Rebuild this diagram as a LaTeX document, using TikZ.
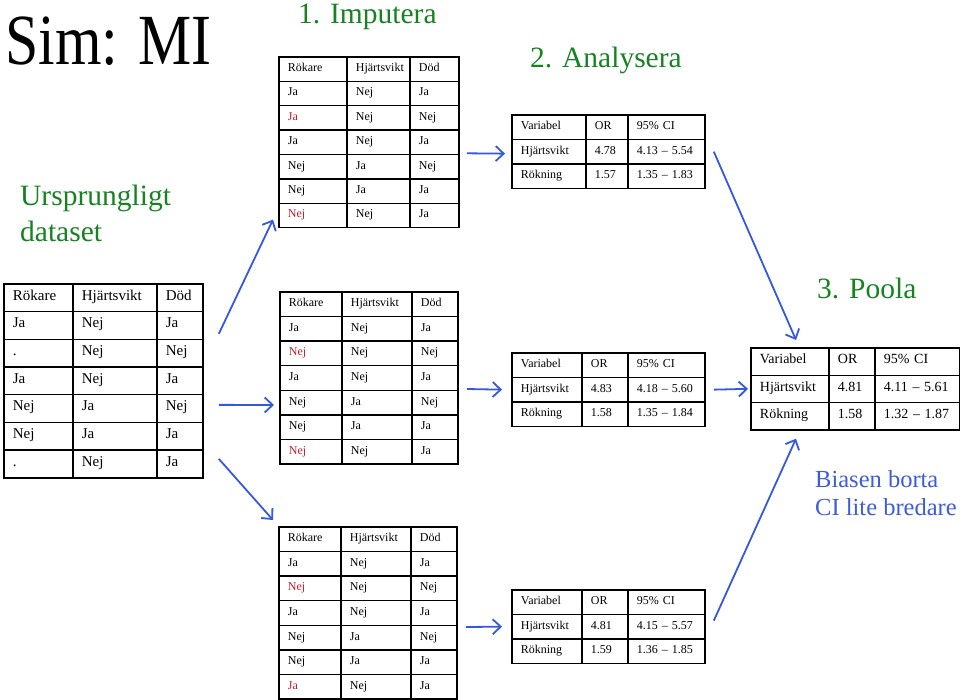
\documentclass[tikz,border=0pt]{standalone}
\usepackage{fontspec}
\setmainfont{Liberation Serif}
\usetikzlibrary{matrix, arrows.meta, calc}

\definecolor{headgreen}{RGB}{22,130,32}
\definecolor{noteblue}{RGB}{62,92,215}
\definecolor{arrowblue}{RGB}{52,88,222}
\definecolor{imputered}{RGB}{190,30,45}

\begin{document}
\begin{tikzpicture}[x=1pt, y=-1pt,
    	cell/.style={draw, line width=1.4pt, anchor=center, align=left, inner xsep=9pt, inner ysep=0pt, text height=0.7em, text depth=0.22em},
    	tbl/.style n args={5}{matrix of nodes, inner sep=0pt, anchor=north west, row sep=-1.4pt, column sep=-1.4pt,
    		nodes={cell, minimum height=#4, font=\fontsize{#5}{#5}\selectfont},
    		column 1/.style={nodes={text width=#1}},
    		column 2/.style={nodes={text width=#2}},
    		column 3/.style={nodes={text width=#3}}},
    	imp/.style={text=imputered},
    	heading/.style={text=headgreen, font=\fontsize{29.5}{36}\selectfont, inner sep=0pt},
    	note/.style={text=noteblue, font=\fontsize{24.5}{28}\selectfont, inner sep=0pt, align=left},
    	arrow/.style={draw=arrowblue, line width=1.8pt, -{Straight Barb[length=8pt,width=15pt]}}
    	]
    	\useasboundingbox (0,0) rectangle (960,699);
    	
    	% rubriker
    	\node (title) [anchor=base west, inner sep=0pt, font=\fontsize{72}{74}\selectfont] at (5,64) {\scalebox{0.83}[1]{Sim: MI}};
    	\node (step1) [heading, anchor=base west] at (298,23) {1. Imputera};
    	\node (step2) [heading, anchor=base west] at (530,67) {2. Analysera};
    	\node (step3) [heading, anchor=base west] at (817,298) {3. Poola};
    	\node (orignote) [heading, align=left, anchor=north west] at (20,185) {Ursprungligt\\dataset};
    	\node (poolnote) [note, anchor=north west] at (815,470) {Biasen borta\\CI lite bredare};
    	
    	% ursprungligt dataset
    	\matrix (orig) [tbl={51pt}{66pt}{28pt}{27.7pt}{15}] at (3,283) {
    		Rökare & Hjärtsvikt & Död \\
    		Ja & Nej & Ja \\
    		. & Nej & Nej \\
    		Ja & Nej & Ja \\
    		Nej & Ja & Nej \\
    		Nej & Ja & Ja \\
    		. & Nej & Ja \\
    	};
    	
    	% imputerade dataset
    	\matrix (imp1) [tbl={50pt}{45pt}{31pt}{24.4pt}{12}] at (278,56) {
    		Rökare & Hjärtsvikt & Död \\
    		Ja & Nej & Ja \\
    		|[imp]| Ja & Nej & Nej \\
    		Ja & Nej & Ja \\
    		Nej & Ja & Nej \\
    		Nej & Ja & Ja \\
    		|[imp]| Nej & Nej & Ja \\
    	};
    	\matrix (imp2) [tbl={44pt}{52pt}{28pt}{24.6pt}{12}] at (279,291) {
    		Rökare & Hjärtsvikt & Död \\
    		Ja & Nej & Ja \\
    		|[imp]| Nej & Nej & Nej \\
    		Ja & Nej & Ja \\
    		Nej & Ja & Nej \\
    		Nej & Ja & Ja \\
    		|[imp]| Nej & Nej & Ja \\
    	};
    	\matrix (imp3) [tbl={44pt}{52pt}{28pt}{24.6pt}{12}] at (278,526) {
    		Rökare & Hjärtsvikt & Död \\
    		Ja & Nej & Ja \\
    		|[imp]| Nej & Nej & Nej \\
    		Ja & Nej & Ja \\
    		Nej & Ja & Nej \\
    		Nej & Ja & Ja \\
    		|[imp]| Ja & Nej & Ja \\
    	};
    	
    	% analyser
    	\matrix (ana1) [tbl={56pt}{24pt}{59pt}{24.5pt}{12}] at (511,114) {
    		Variabel & OR & 95\% CI \\
    		Hjärtsvikt & 4.78 & 4.13 – 5.54 \\
    		Rökning & 1.57 & 1.35 – 1.83 \\
    	};
    	\matrix (ana2) [tbl={52pt}{28pt}{59pt}{24.5pt}{12}] at (511,352) {
    		Variabel & OR & 95\% CI \\
    		Hjärtsvikt & 4.83 & 4.18 – 5.60 \\
    		Rökning & 1.58 & 1.35 – 1.84 \\
    	};
    	\matrix (ana3) [tbl={52pt}{28pt}{59pt}{24.5pt}{12}] at (511,589) {
    		Variabel & OR & 95\% CI \\
    		Hjärtsvikt & 4.81 & 4.15 – 5.57 \\
    		Rökning & 1.59 & 1.36 – 1.85 \\
    	};
    	
    	% poolat resultat
    	\matrix (pool) [tbl={60pt}{28pt}{67pt}{27.3pt}{14}] at (750,347) {
    		Variabel & OR & 95\% CI \\
    		Hjärtsvikt & 4.81 & 4.11 – 5.61 \\
    		Rökning & 1.58 & 1.32 – 1.87 \\
    	};
    	
    	% pilar imputering
    	\draw [arrow] ($(orig.east)+(15,-47)$) -- ($(imp1.south west)+(-5,-9)$);
    	\draw [arrow] ($(orig.east)+(15,24)$) -- ($(imp2.west)+(-5,27)$);
    	\draw [arrow] ($(orig.east)+(15,78)$) -- ($(imp3.north west)+(-5,-6)$);
    	
    	% pilar analys
    	\draw [arrow] ($(imp1.east)+(7,11)$) -- ($(ana1.west)+(-6,2)$);
    	\draw [arrow] ($(imp2.east)+(8,11)$) -- ($(ana2.west)+(-9,0)$);
    	\draw [arrow] ($(imp3.east)+(8,14)$) -- ($(ana3.west)+(-9,0)$);
    	
    	% pilar poolning
    	\draw [arrow] ($(ana1.east)+(8,0)$) -- ($(pool.north west)+(46,-7)$);
    	\draw [arrow] ($(ana2.east)+(8,0)$) -- ($(pool.west)+(-2,0)$);
    	\draw [arrow] ($(ana3.east)+(8,-6)$) -- ($(pool.south west)+(46,8)$);
    	
\end{tikzpicture}
\end{document}
